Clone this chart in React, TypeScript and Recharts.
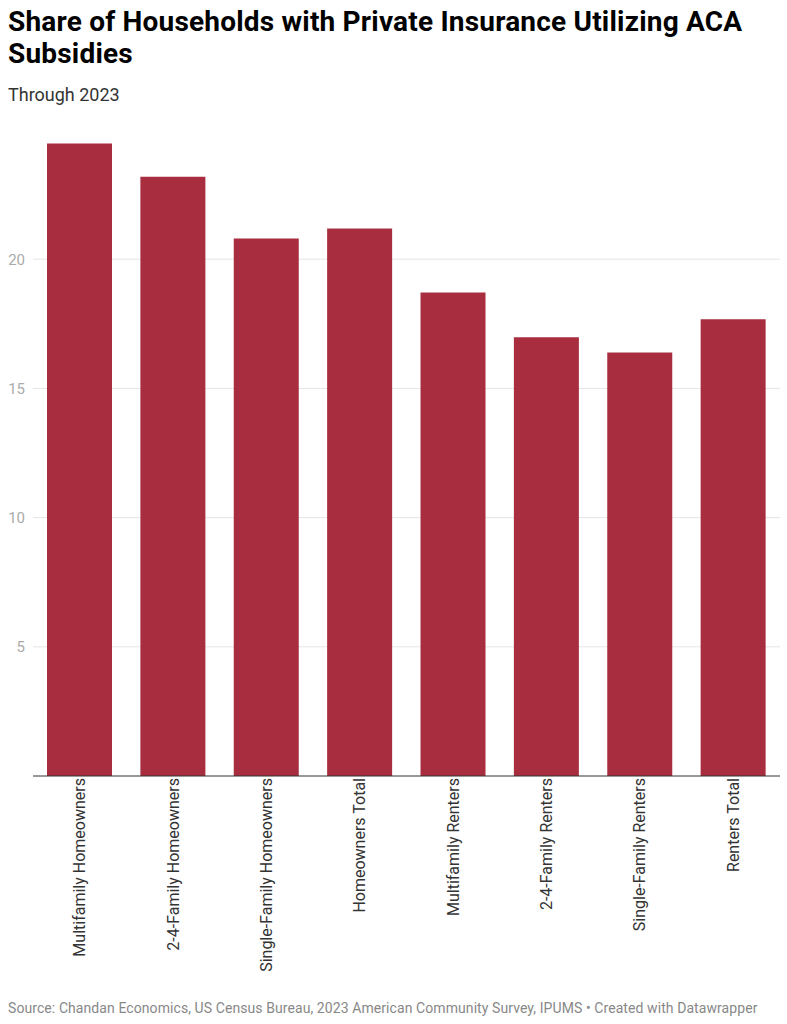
import { BarChart, Bar, XAxis, YAxis, CartesianGrid } from 'recharts';

const CATEGORIES = [
  'Multifamily Homeowners',
  '2-4-Family Homeowners',
  'Single-Family Homeowners',
  'Homeowners Total',
  'Multifamily Renters',
  '2-4-Family Renters',
  'Single-Family Renters',
  'Renters Total',
];

const SHARE = [24.48, 23.19, 20.8, 21.19, 18.71, 16.98, 16.39, 17.68];

const Y_TICKS = [5, 10, 15, 20];

const BAR_COLOR = '#a82e3f';

const chartData = CATEGORIES.map((name, i) => ({ name, value: SHARE[i] }));

const FONT = 'Roboto, "Noto Sans", sans-serif';

function RotatedTick(props: any) {
  const { x, y, payload } = props;
  return (
    <text
      x={0}
      y={0}
      transform={`translate(${x},${y - 6}) rotate(-90)`}
      textAnchor="end"
      dominantBaseline="central"
      fontSize={16}
      fontFamily={FONT}
      fill="#333"
    >
      {payload.value}
    </text>
  );
}

export default function App() {
  return (
    <div style={{ position: 'relative', width: 787, height: 1024, fontFamily: FONT, background: '#fff' }}>
      <style>{`body { margin: 0; }`}</style>
      <div
        style={{
          position: 'absolute',
          left: 8,
          top: 5.5,
          width: 770,
          fontSize: 28,
          fontWeight: 700,
          lineHeight: '32.5px',
          color: '#000',
          letterSpacing: '0.2px',
        }}
      >
        Share of Households with Private Insurance Utilizing ACA Subsidies
      </div>
      <div style={{ position: 'absolute', left: 8, top: 84, fontSize: 18, color: '#333' }}>
        Through 2023
      </div>
      <div style={{ position: 'absolute', top: 110, left: 0 }}>
        <BarChart
          width={787}
          height={870}
          data={chartData}
          margin={{ top: 20, right: 7, bottom: 0, left: 0 }}
          barCategoryGap="15%"
        >
          <CartesianGrid vertical={false} stroke="#e5e5e5" horizontalValues={Y_TICKS} />
          <XAxis
            dataKey="name"
            interval={0}
            height={204}
            tickLine={false}
            axisLine={{ stroke: '#333', strokeWidth: 1 }}
            tick={<RotatedTick />}
          />
          <YAxis
            width={33}
            domain={[0, 25]}
            ticks={Y_TICKS}
            tickLine={false}
            axisLine={false}
            tick={{ fill: '#aaa', fontSize: 15, fontFamily: FONT }}
          />
          <Bar dataKey="value" fill={BAR_COLOR} isAnimationActive={false} />
        </BarChart>
      </div>
      <div
        style={{
          position: 'absolute',
          left: 8,
          top: 1000,
          fontSize: 14,
          letterSpacing: '0.08px',
          color: '#888',
          whiteSpace: 'nowrap',
        }}
      >
        Source: Chandan Economics, US Census Bureau, 2023 American Community Survey, IPUMS • Created with Datawrapper
      </div>
    </div>
  );
}
